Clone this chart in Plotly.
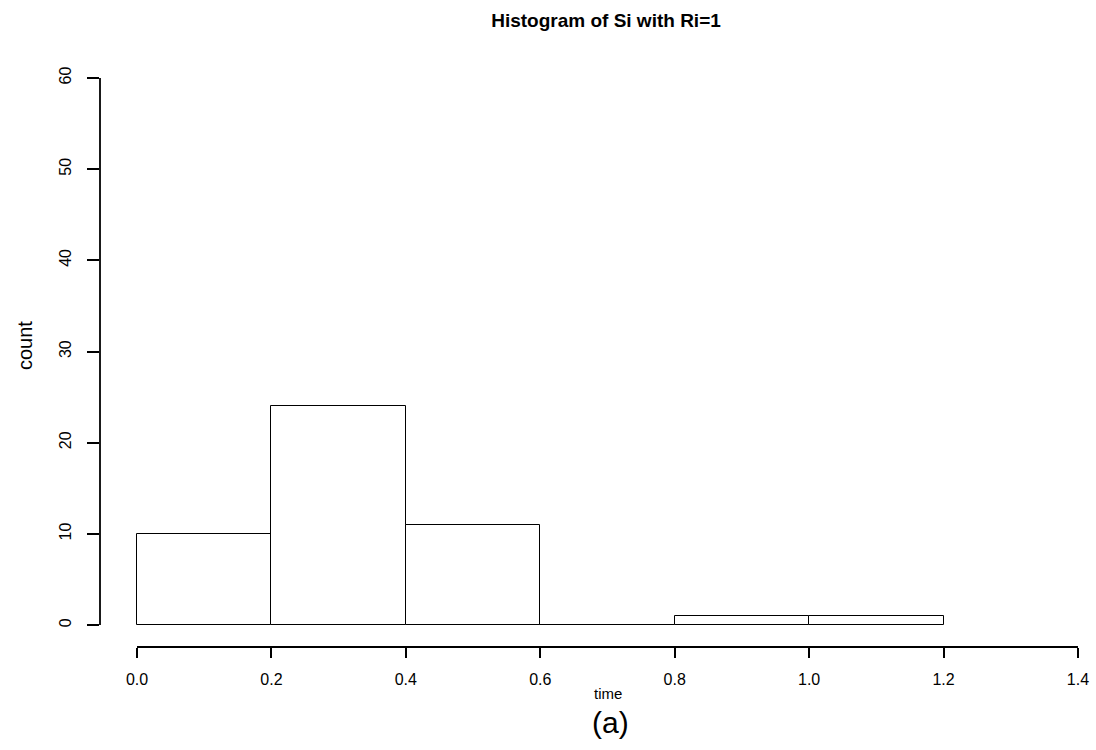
import plotly.graph_objects as go

# Data
bin_left = [0.0, 0.2, 0.4, 0.6, 0.8, 1.0]
bin_width = 0.2
counts = [10, 24, 11, 0, 1, 1]
x_ticks = [0.0, 0.2, 0.4, 0.6, 0.8, 1.0, 1.2, 1.4]
x_tick_labels = ["0.0", "0.2", "0.4", "0.6", "0.8", "1.0", "1.2", "1.4"]
y_ticks = [0, 10, 20, 30, 40, 50, 60]

centers = [b + bin_width / 2 for b in bin_left]

FONT = "Liberation Sans, Arial, Helvetica, sans-serif"

fig = go.Figure()
fig.add_trace(go.Bar(
    x=centers, y=counts, width=[bin_width] * len(counts),
    marker=dict(color="white", line=dict(color="black", width=1)),
    hoverinfo="x+y",
))

# R-style detached axis lines
fig.add_shape(type="line", xref="x", yref="paper", x0=x_ticks[0], x1=x_ticks[-1], y0=0, y1=0,
              line=dict(color="black", width=1.8))
fig.add_shape(type="line", xref="paper", yref="y", x0=0, x1=0, y0=y_ticks[0], y1=y_ticks[-1],
              line=dict(color="black", width=1.8))

fig.update_layout(
    width=1096, height=750,
    margin=dict(l=100, r=6, t=56, b=103),
    plot_bgcolor="white", paper_bgcolor="white",
    showlegend=False,
    font=dict(family=FONT, color="black"),
    title=dict(text="<b>Histogram of Si with Ri=1</b>", x=606 / 1096, xanchor="center",
               y=1 - 20 / 750, yanchor="middle", font=dict(size=19, family=FONT, color="black")),
    xaxis=dict(range=[-0.05506, 1.4179], tickvals=x_ticks, ticktext=x_tick_labels,
               ticks="outside", ticklen=10, tickwidth=1.8, tickcolor="black",
               showline=False, showgrid=False, zeroline=False,
               tickfont=dict(size=16, family=FONT, color="black"), ticklabelstandoff=8),
    yaxis=dict(range=[-2.4, 62.41], tickvals=y_ticks,
               ticks="outside", ticklen=12, tickwidth=1.8, tickcolor="black",
               showline=False, showgrid=False, zeroline=False, tickangle=-90,
               tickfont=dict(size=16, family=FONT, color="black"), ticklabelstandoff=10),
    bargap=0,
    annotations=[
        dict(text="time", xref="paper", yref="paper", x=(608 - 100) / 990, y=(647 - 693) / 591,
             showarrow=False, xanchor="center", yanchor="middle", font=dict(size=15, family=FONT)),
        dict(text="(a)", xref="paper", yref="paper", x=(610 - 100) / 990, y=(647 - 722) / 591,
             showarrow=False, xanchor="center", yanchor="middle", font=dict(size=30, family=FONT)),
        dict(text="count", xref="paper", yref="paper", x=(25 - 100) / 990, y=(647 - 346) / 591,
             showarrow=False, xanchor="center", yanchor="middle", textangle=-90,
             font=dict(size=20, family=FONT)),
    ],
)

fig.write_html("out.html")
